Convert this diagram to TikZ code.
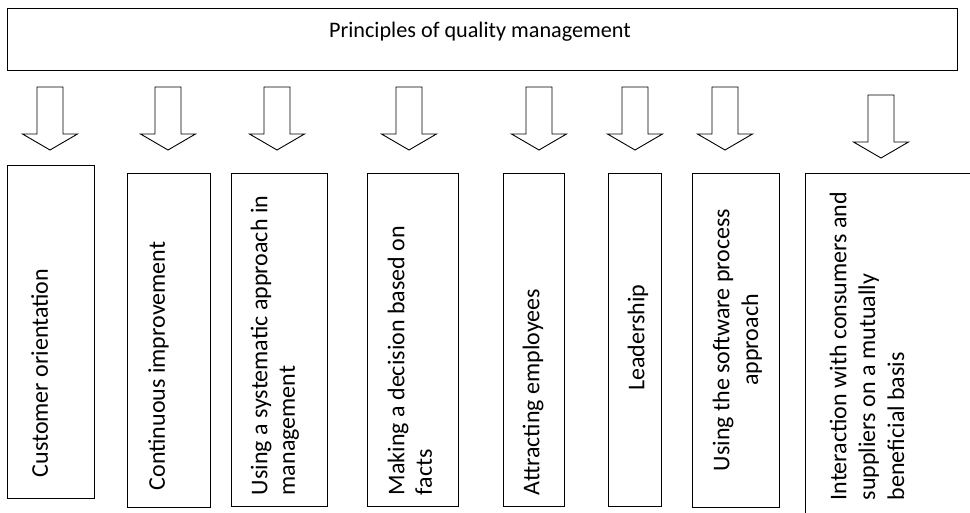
\documentclass[tikz,border=0pt]{standalone}
\usepackage{fontspec}
\setmainfont{Carlito}
\usetikzlibrary{positioning}

\begin{document}
\begin{tikzpicture}[x=1pt, y=-1pt]
    \tikzstyle{principle} = [rectangle, draw=black, line width=0.9pt, inner sep=0pt]
    \tikzstyle{vtext} = [rotate=90, inner sep=0pt, align=left, font=\fontsize{24}{28.8}\selectfont]
    \tikzset{downarrow/.pic={\draw[line width=0.9pt] (-13,0) -- (13,0) -- (13,47) -- (27.5,47) -- (0,63) -- (-27.5,47) -- (-13,47) -- cycle;}}

    \clip (0,0) rectangle (970,513);

    % header
    \node (title)[principle, minimum width=950pt, minimum height=62pt] at (482,39) {};
    \node (titletext)[anchor=base, font=\fontsize{22.2}{26}\selectfont] at (480,37.3) {Principles of quality management};

    % arrows
    \foreach \x in {50,168,277,409,539,635,725}
        \pic at (\x,87) {downarrow};
    \pic at (881,95) {downarrow};

    % principles
    \node (b1)[principle, minimum width=87pt, minimum height=333pt] at (50.5,331.5) {};
    \node (b2)[principle, minimum width=83pt, minimum height=334pt] at (168.5,340) {};
    \node (b3)[principle, minimum width=96pt, minimum height=333pt] at (279,339.5) {};
    \node (b4)[principle, minimum width=91pt, minimum height=333pt] at (412.5,339.5) {};
    \node (b5)[principle, minimum width=61pt, minimum height=333pt] at (533.5,339.5) {};
    \node (b6)[principle, minimum width=53pt, minimum height=333pt] at (634.5,339.5) {};
    \node (b7)[principle, minimum width=87pt, minimum height=334pt] at (735.5,340) {};
    \node (b8)[principle, minimum width=195pt, minimum height=387pt] at (902.5,366.5) {};

    \node (t1)[vtext, anchor=north west] at ([xshift=24.5pt, yshift=21pt]b1.south west) {Customer orientation};
    \node (t2)[vtext, anchor=north west] at ([xshift=21.5pt, yshift=17pt]b2.south west) {Continuous improvement};
    \node (t3)[vtext, anchor=north west, font=\fontsize{24}{27.5}\selectfont] at ([xshift=20pt, yshift=11pt]b3.south west) {Using a systematic approach in\\ management};
    \node (t4)[vtext, anchor=north west, font=\fontsize{24}{27.5}\selectfont] at ([xshift=21pt, yshift=11pt]b4.south west) {Making a decision based on\\ facts};
    \node (t5)[vtext, anchor=north west] at ([xshift=20pt, yshift=11pt]b5.south west) {Attracting employees};
    \node (t6)[vtext, anchor=north] at ([xshift=20pt, yshift=2pt]b6.west) {Leadership};
    \node (t7)[vtext, anchor=north, align=center] at ([xshift=21pt]b7.west) {Using the software process\\ approach};
    \node (t8)[vtext, anchor=north west] at ([xshift=25pt, yshift=60pt]b8.south west) {Interaction with consumers and\\ suppliers on a mutually\\ beneficial basis};
\end{tikzpicture}
\end{document}
